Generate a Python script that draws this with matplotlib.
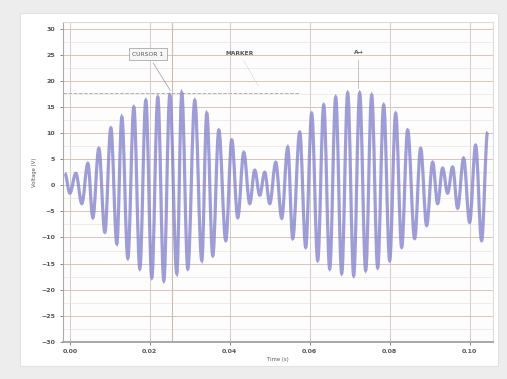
import matplotlib.pyplot as plt
from matplotlib.patches import Rectangle, PathPatch
from matplotlib.path import Path
import numpy as np

# signal extrema (time in s, voltage in V)
peak_t = [-0.00125, 0.0015, 0.0045, 0.00725, 0.01025, 0.013, 0.016, 0.019, 0.022,
          0.025, 0.028, 0.03125, 0.03425, 0.03725, 0.0405, 0.0435, 0.04625, 0.04875,
          0.0515, 0.0545, 0.0575, 0.0605, 0.0635, 0.0665, 0.0695, 0.0725, 0.0755,
          0.0785, 0.0815, 0.0845, 0.08775, 0.09075, 0.09325, 0.09575, 0.0985, 0.1015,
          0.1045]
peak_v = [2.3, 2.3, 4.2, 7.1, 11.0, 13.1, 15.0, 16.3, 16.9, 17.3, 17.7, 16.3, 13.8,
          10.6, 8.7, 6.3, 2.9, 2.5, 4.4, 7.3, 10.2, 13.8, 15.4, 16.9, 17.7, 17.7, 17.3,
          15.4, 13.8, 10.6, 7.1, 4.4, 3.3, 3.5, 5.2, 7.7, 10.2]
trough_t = [0.0, 0.003, 0.00575, 0.00875, 0.01175, 0.0145, 0.0175, 0.0205, 0.0235,
            0.02675, 0.0295, 0.033, 0.03575, 0.039, 0.042, 0.045, 0.0475, 0.05, 0.053,
            0.05575, 0.059, 0.062, 0.065, 0.068, 0.071, 0.074, 0.077, 0.08, 0.083,
            0.08625, 0.08925, 0.092, 0.0945, 0.097, 0.1, 0.103]
trough_v = [-1.5, -3.5, -6.2, -9.0, -11.2, -14.0, -16.0, -17.7, -18.3, -16.9, -16.0,
            -14.4, -13.5, -10.6, -6.2, -3.5, -1.9, -3.5, -6.3, -10.2, -11.9, -14.4,
            -16.0, -16.9, -17.3, -16.3, -15.8, -14.4, -11.9, -10.2, -7.7, -3.5, -1.5,
            -4.4, -7.1, -10.6]

x_ticks = [0.0, 0.02, 0.04, 0.06, 0.08, 0.10]
x_labels = ['0.00', '0.02', '0.04', '0.06', '0.08', '0.10']
y_ticks = [30, 25, 20, 15, 10, 5, 0, -5, -10, -15, -20, -25, -30]
cursor_t = 0.0255
peak_level = 17.7

t = np.concatenate([peak_t, trough_t])
v = np.concatenate([peak_v, trough_v])
order = np.argsort(t)
t, v = t[order], v[order]

# smooth the trace between extrema with cubic bezier segments (flat at each extremum)
verts = [(t[0], v[0])]
codes = [Path.MOVETO]
for i in range(1, len(t)):
    dt = t[i] - t[i - 1]
    verts += [(t[i - 1] + 0.36 * dt, v[i - 1]), (t[i] - 0.36 * dt, v[i]), (t[i], v[i])]
    codes += [Path.CURVE4] * 3

fig = plt.figure(figsize=(5.07, 3.79), dpi=100)
fig.patch.set_facecolor('#ededed')
fig.patches.append(Rectangle((0.04, 0.035), 0.943, 0.93, transform=fig.transFigure,
                             facecolor='white', edgecolor='#e2e2e2', lw=0.8, zorder=-10))

ax = fig.add_axes([0.124, 0.098, 0.848, 0.844])
ax.set_facecolor('#fdfdfd')

ax.add_patch(PathPatch(Path(verts, codes), fill=False, edgecolor='#8785cc',
                       linewidth=2.3, alpha=0.8, zorder=3))

ax.set_xlim(-0.00175, 0.1058)
ax.set_ylim(-30, 31.3)
ax.set_xticks(x_ticks)
ax.set_xticklabels(x_labels)
ax.set_yticks(y_ticks)
ax.set_yticks(np.arange(-27.5, 31, 5), minor=True)
ax.tick_params(labelsize=4.5, colors='#555555', length=2, width=0.5)
ax.tick_params(which='minor', length=0)
for lab in ax.get_xticklabels() + ax.get_yticklabels():
    lab.set_fontweight('bold')

ax.grid(True, which='major', axis='y', color='#dcc3b6', linewidth=0.7)
ax.grid(True, which='major', axis='x', color='#d6cbc4', linewidth=0.7)
ax.grid(True, which='minor', axis='y', color='#eee2dc', linewidth=0.5)
for s in ['top', 'right']:
    ax.spines[s].set_color('#dddddd')
ax.spines['left'].set_color('#aaaaaa')
ax.spines['bottom'].set_color('#999999')
ax.spines['bottom'].set_linewidth(1.2)

# cursor and reference lines
ax.axvline(cursor_t, color='#c8bcb4', linewidth=0.8, zorder=2)
ax.axhline(peak_level, xmax=0.55, color='#b8b0b0', linewidth=0.7, linestyle='--', zorder=2)

ax.annotate('CURSOR 1', xy=(cursor_t, peak_level), xytext=(0.0195, 25.1),
            fontsize=4.3, color='#555555', ha='center', va='center',
            bbox=dict(boxstyle='square,pad=0.6', fc='#f6f6f6', ec='#999999', lw=0.5),
            arrowprops=dict(arrowstyle='-', color='#999999', lw=0.5))
ax.annotate('MARKER', xy=(0.0475, 18.5), xytext=(0.0425, 25.3),
            fontsize=4.3, color='#555555', ha='center', va='center', fontweight='bold',
            arrowprops=dict(arrowstyle='-', color='#dddddd', lw=0.5))
ax.annotate('A\u2192', xy=(0.0722, 18.0), xytext=(0.0722, 25.5),
            fontsize=4.3, color='#555555', ha='center', va='center', fontweight='bold',
            arrowprops=dict(arrowstyle='-', color='#aaaaaa', lw=0.5))

ax.set_xlabel('Time (s)', fontsize=3.8, color='#555555', labelpad=2)
ax.set_ylabel('Voltage (V)', fontsize=3.8, color='#555555', labelpad=4)
ax.yaxis.set_label_coords(-0.06, 0.53)

plt.savefig('out.png', dpi=100, facecolor=fig.get_facecolor())
